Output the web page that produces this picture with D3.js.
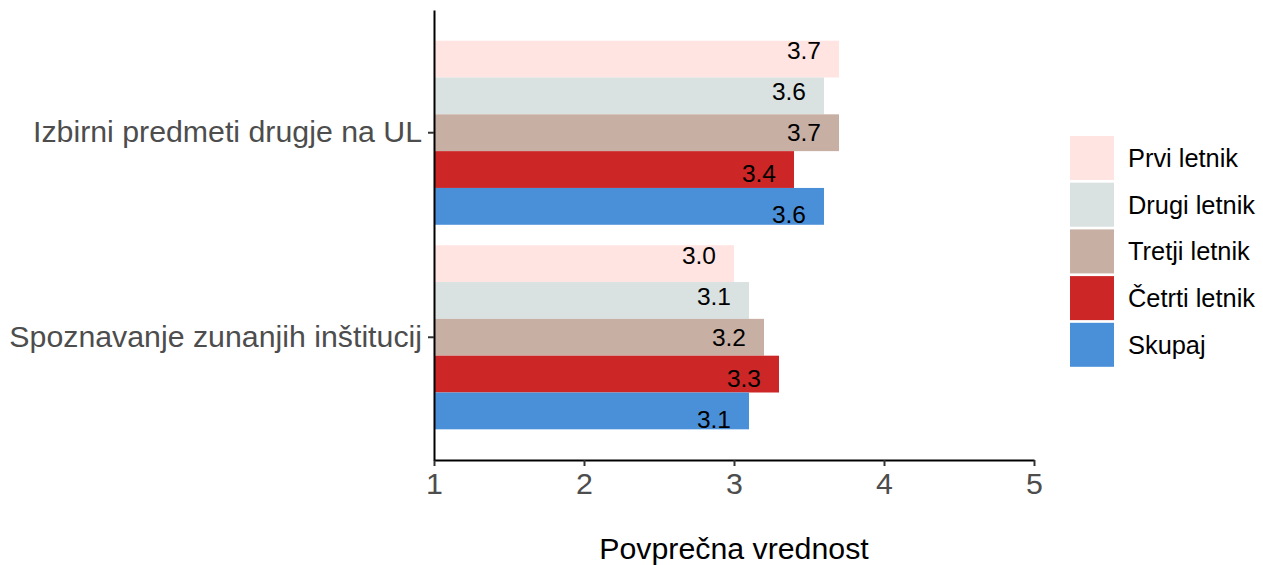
<!DOCTYPE html>
<html>
<head>
<meta charset="utf-8">
<script src="https://cdn.jsdelivr.net/npm/d3@7"></script>
<style>
  body { margin: 0; background: #fff; }
  text { font-family: "Liberation Sans", Arial, sans-serif; }
</style>
</head>
<body>
<div id="chart"></div>
<script>
const categories = ["Izbirni predmeti drugje na UL", "Spoznavanje zunanjih inštitucij"]
const series = ["Prvi letnik", "Drugi letnik", "Tretji letnik", "Četrti letnik", "Skupaj"]
const colors = ["#FFE4E1", "#D9E2E1", "#C8AFA4", "#CD2626", "#4A90D9"]
// values per category, in series order
const izbirni = [3.7, 3.6, 3.7, 3.4, 3.6]
const spoznavanje = [3.0, 3.1, 3.2, 3.3, 3.1]
const xTicks = [1, 2, 3, 4, 5]

const valuesByCat = [izbirni, spoznavanje]
const data = []
categories.forEach((c, ci) => {
    series.forEach((s, si) => {
        data.push({cat: c, series: s, value: valuesByCat[ci][si]})
    })
})

const WIDTH = 1263, HEIGHT = 565
const plot = {left: 434, right: 1034, top: 10, bottom: 460}

const svg = d3.select("#chart")
    .append("svg")
    .attr("width", WIDTH)
    .attr("height", HEIGHT)

const x = d3.scaleLinear()
    .domain([1, 5])
    .range([plot.left, plot.right])

const y = d3.scaleBand()
    .domain(categories)
    .range([plot.top, plot.bottom])
    .paddingInner(0)
    .paddingOuter(0.1)

// bars use 90% of the band, labels are dodged over the whole band
const ySub = d3.scaleBand()
    .domain(series)
    .range([y.bandwidth() * 0.05, y.bandwidth() * 0.95])

const yLab = d3.scaleBand()
    .domain(series)
    .range([0, y.bandwidth()])

const color = d3.scaleOrdinal()
    .domain(series)
    .range(colors)

svg.append("g")
    .selectAll("rect")
    .data(data)
    .enter()
    .append("rect")
    .attr("x", x(1))
    .attr("y", d => y(d.cat) + ySub(d.series))
    .attr("width", d => x(d.value) - x(1))
    .attr("height", ySub.bandwidth())
    .attr("fill", d => color(d.series))

svg.append("g")
    .selectAll("text")
    .data(data)
    .enter()
    .append("text")
    .attr("x", d => x(d.value) - 18)
    .attr("y", d => y(d.cat) + yLab(d.series) + yLab.bandwidth() / 2)
    .attr("dy", "0.35em")
    .attr("text-anchor", "end")
    .attr("font-size", "24.5px")
    .attr("fill", "#000")
    .text(d => d.value.toFixed(1))

// x axis
const xAxis = d3.axisBottom(x)
    .tickValues(xTicks)
    .tickFormat(d3.format("d"))
    .tickSize(6)
    .tickSizeOuter(0)
    .tickPadding(6)
const gx = svg.append("g")
    .attr("transform", "translate(0," + plot.bottom + ")")
    .call(xAxis)
gx.select(".domain").attr("stroke", "#000").attr("stroke-width", 2)
gx.selectAll(".tick line").attr("stroke", "#333").attr("stroke-width", 2)
gx.selectAll(".tick text")
    .attr("font-size", "30.3px")
    .attr("font-family", "Liberation Sans, Arial, sans-serif")
    .attr("fill", "#4D4D4D")

// y axis
const yAxis = d3.axisLeft(y)
    .tickSize(6)
    .tickSizeOuter(0)
    .tickPadding(6)
const gy = svg.append("g")
    .attr("transform", "translate(" + plot.left + ",0)")
    .call(yAxis)
gy.select(".domain").attr("stroke", "#000").attr("stroke-width", 2)
gy.selectAll(".tick line").attr("stroke", "#333").attr("stroke-width", 2)
gy.selectAll(".tick text")
    .attr("font-size", "30.3px")
    .attr("font-family", "Liberation Sans, Arial, sans-serif")
    .attr("fill", "#4D4D4D")

svg.append("text")
    .attr("x", (plot.left + plot.right) / 2)
    .attr("y", 559)
    .attr("text-anchor", "middle")
    .attr("font-size", "30.3px")
    .attr("fill", "#000")
    .text("Povprečna vrednost")

// legend
const legend = svg.append("g")
    .attr("transform", "translate(1070,136)")
const step = 46.7
legend.selectAll("rect")
    .data(series)
    .enter()
    .append("rect")
    .attr("x", 0)
    .attr("y", (d, i) => i * step)
    .attr("width", 44)
    .attr("height", 44)
    .attr("fill", d => color(d))
legend.selectAll("text")
    .data(series)
    .enter()
    .append("text")
    .attr("x", 58)
    .attr("y", (d, i) => i * step + 22)
    .attr("dy", "0.35em")
    .attr("font-size", "25.4px")
    .attr("fill", "#000")
    .text(d => d)
</script>
</body>
</html>
